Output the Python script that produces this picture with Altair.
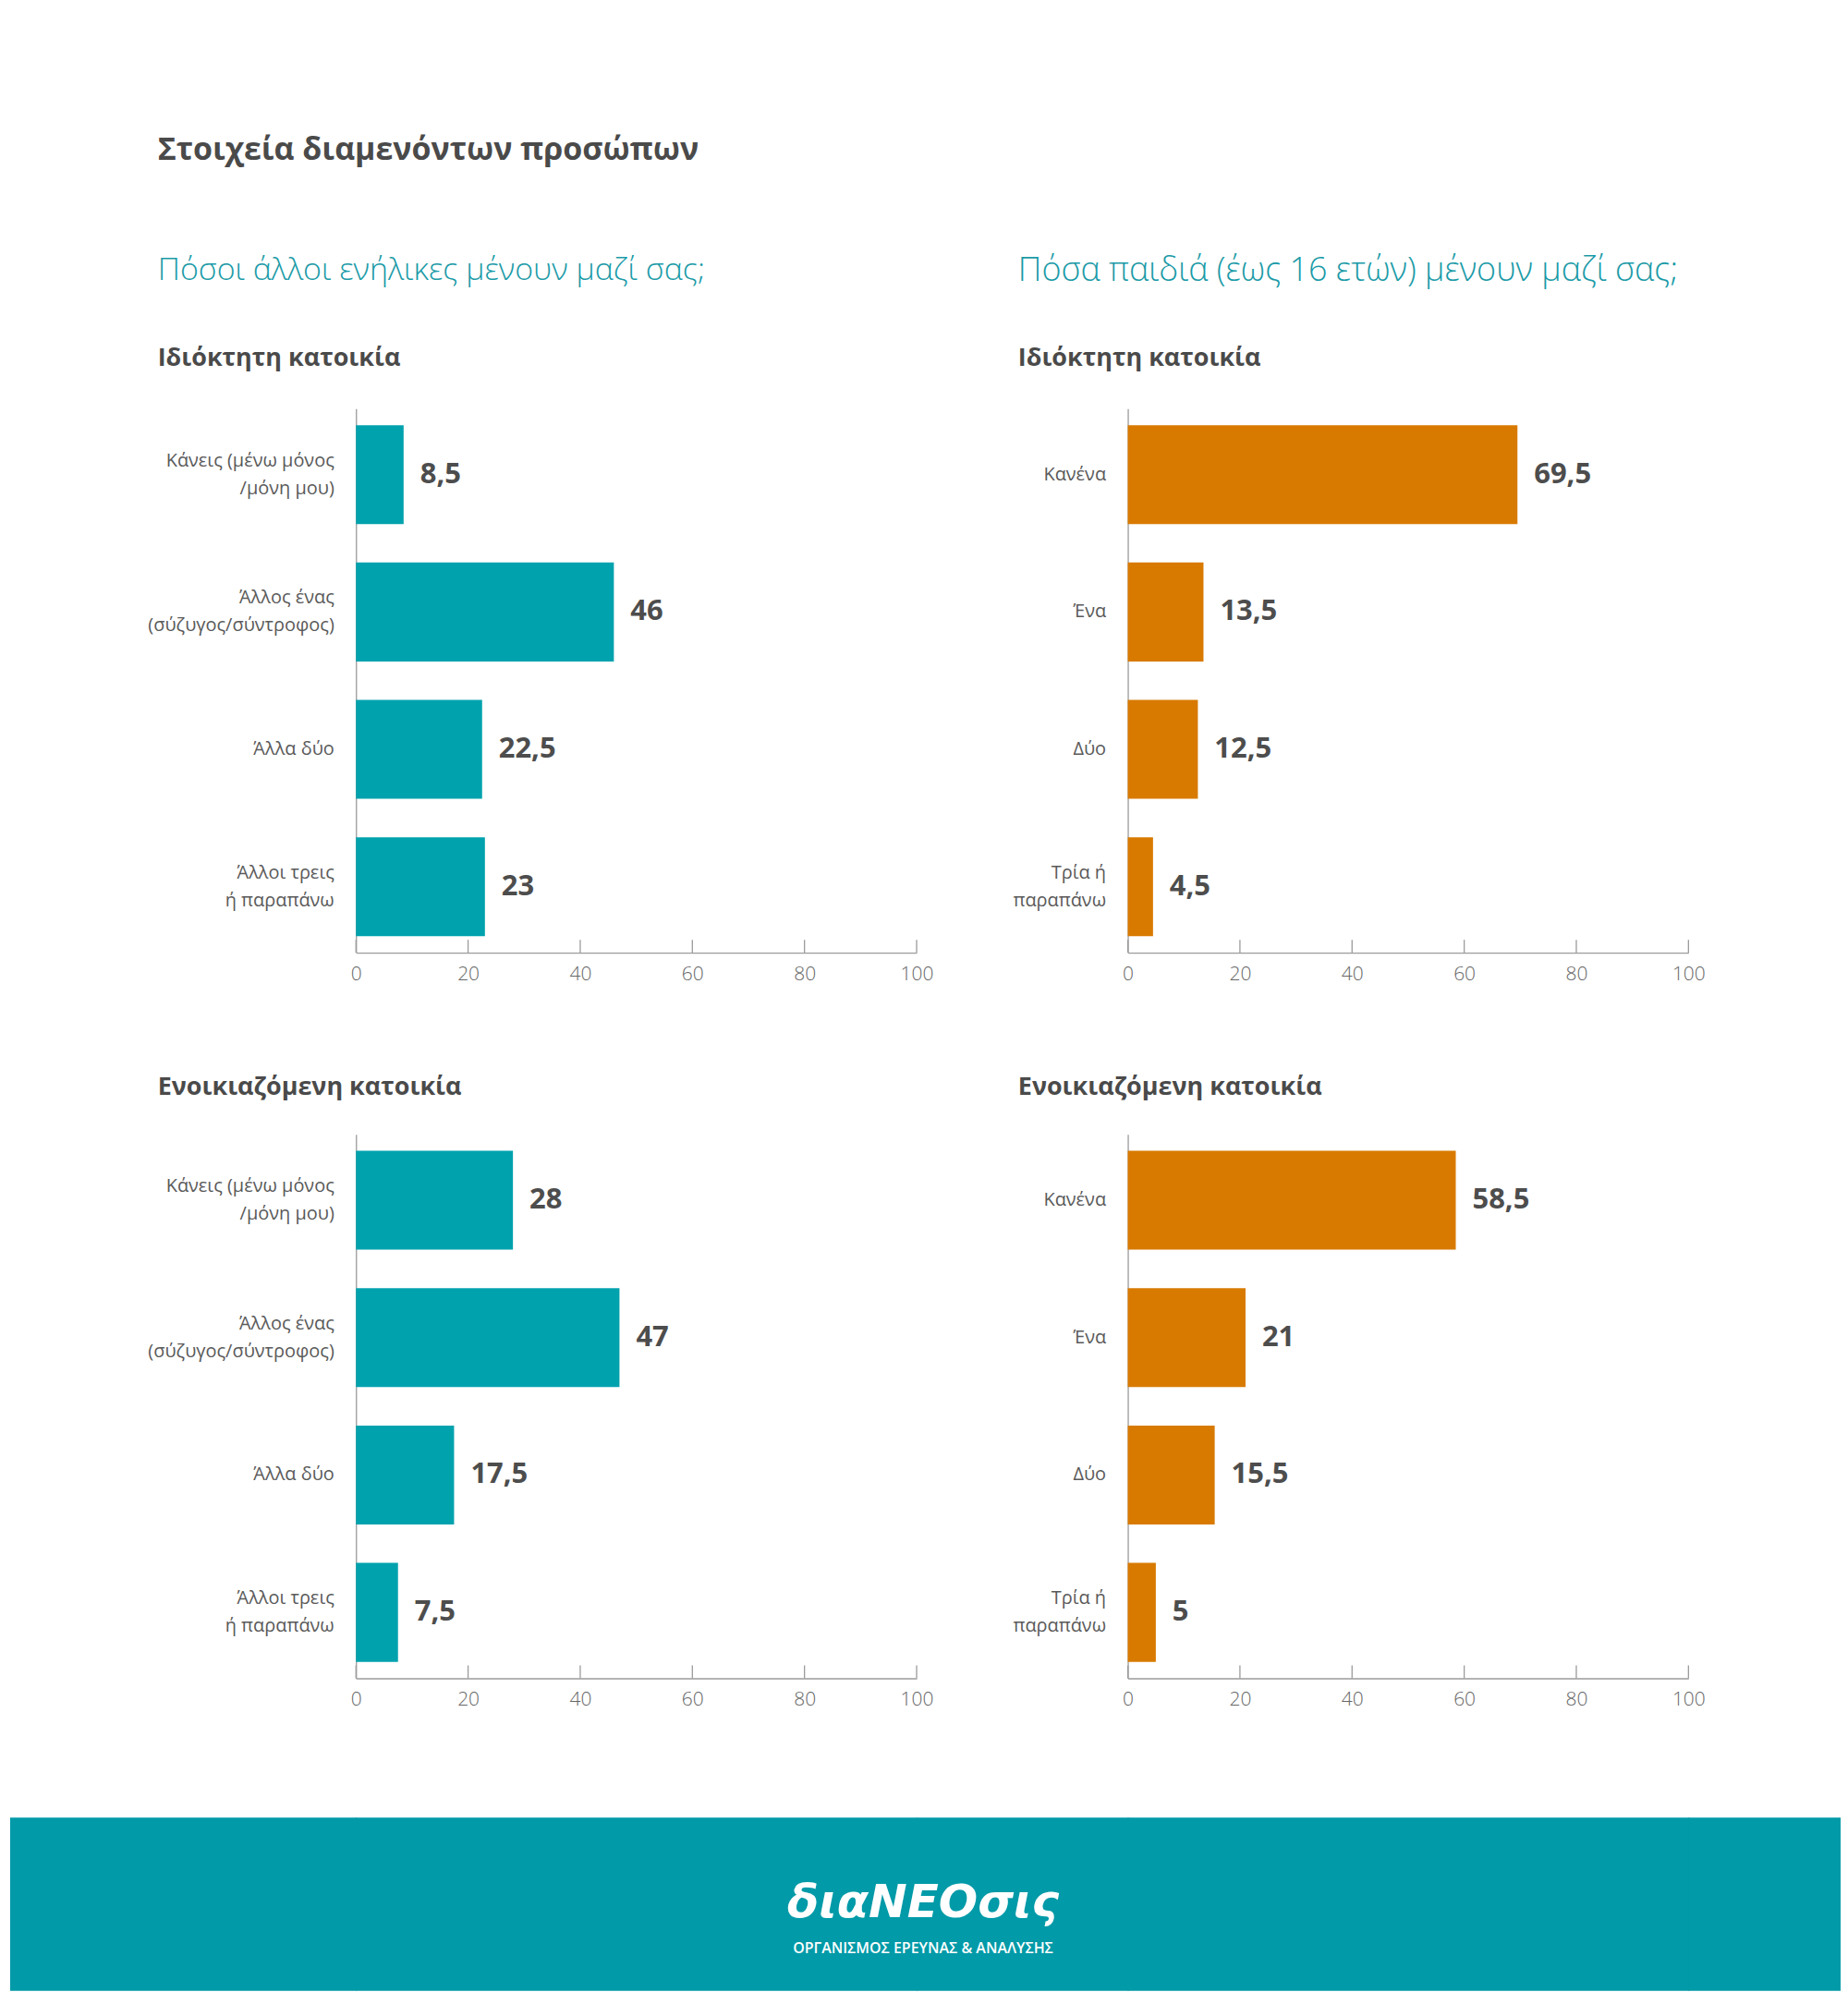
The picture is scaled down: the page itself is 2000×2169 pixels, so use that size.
import altair as alt
import pandas as pd

FONT = "Open Sans"
TEAL = "#00A2AE"
ORANGE = "#D87A00"
FOOTER = "#009AA8"
DARK = "#4A4A4A"
AXIS_GRAY = "#9B9B9B"

# ---- data ----
adult_categories = ["Κάνεις (μένω μόνος|/μόνη μου)", "Άλλος ένας|(σύζυγος/σύντροφος)",
                    "Άλλα δύο", "Άλλοι τρεις|ή παραπάνω"]
child_categories = ["Κανένα", "Ένα", "Δύο", "Τρία ή|παραπάνω"]
adults_owned = [8.5, 46, 22.5, 23]
adults_rented = [28, 47, 17.5, 7.5]
children_owned = [69.5, 13.5, 12.5, 4.5]
children_rented = [58.5, 21, 15.5, 5]
x_ticks = [0, 20, 40, 60, 80, 100]

main_title = "Στοιχεία διαμενόντων προσώπων"
q_adults = "Πόσοι άλλοι ενήλικες μένουν μαζί σας;"
q_children = "Πόσα παιδιά (έως 16 ετών) μένουν μαζί σας;"
t_owned = "Ιδιόκτητη κατοικία"
t_rented = "Ενοικιαζόμενη κατοικία"
logo_text = "διαNEOσις"
logo_sub = "ΟΡΓΑΝΙΣΜΟΣ ΕΡΕΥΝΑΣ & ΑΝΑΛΥΣΗΣ"

# ---- layout grid (flush cells) ----
COL_W = [375, 608, 229, 608, 164]
ROW_H = [430, 590, 197, 590, 151, 188]
PW, PH = 608, 590
LINE_H = 30
one = pd.DataFrame({"a": [0]})


def fmt(v):
    return f"{v:g}".replace(".", ",")


def panel(cats, vals, color):
    df = pd.DataFrame({"cat": cats, "val": vals, "lab": [fmt(v) for v in vals]})
    y = alt.Y("cat:N", sort=cats, title=None,
              scale=alt.Scale(paddingInner=0.28, paddingOuter=0.12),
              axis=alt.Axis(ticks=False, tickSize=0, domainColor=AXIS_GRAY, domainWidth=1.3,
                            labelFont=FONT, labelFontSize=20, labelFontWeight=400,
                            labelColor="#5A5A5A", labelPadding=24, labelLimit=400,
                            labelLineHeight=LINE_H,
                            labelOffset={"condition": {"test": "indexof(datum.label, '|') >= 0",
                                                       "value": -LINE_H / 2},
                                         "value": 0},
                            labelExpr="split(datum.label, '|')"))
    x = alt.X("val:Q", title=None, scale=alt.Scale(domain=[0, 100], nice=False),
              axis=alt.Axis(values=x_ticks, ticks=False, tickSize=0, grid=False,
                            domainColor=AXIS_GRAY, domainWidth=1.3, labelFont=FONT,
                            labelFontSize=21, labelFontWeight=300, labelColor="#666666",
                            labelPadding=12, labelFlush=False))
    base = alt.Chart(df)
    bars = base.mark_bar(color=color).encode(x=x, y=y)
    text = base.mark_text(align="left", baseline="middle", dx=18, font=FONT, fontSize=31,
                          fontWeight="bold", color="#4D4D4D").encode(
        x="val:Q", y=alt.Y("cat:N", sort=cats), text="lab:N")
    ticks = alt.Chart(pd.DataFrame({"t": x_ticks})).mark_rule(
        color=AXIS_GRAY, strokeWidth=1.3).encode(
        x=alt.X("t:Q", title=None), y=alt.value(PH - 14), y2=alt.value(PH))
    return alt.layer(bars, text, ticks).properties(width=PW, height=PH)


def blank(w, h):
    return alt.Chart(one).mark_point(opacity=0).encode(
        x=alt.value(0), y=alt.value(0)).properties(width=w, height=h)


def label(txt, x, y, size, weight, color, align="left", style="normal", font=FONT):
    return alt.Chart(one).mark_text(align=align, baseline="middle", font=font, fontSize=size,
                                    fontWeight=weight, color=color, fontStyle=style).encode(
        x=alt.value(x), y=alt.value(y), text=alt.value(txt))


def footer_cell(w, h, extra=None):
    rect = alt.Chart(one).mark_rect(color=FOOTER).encode(
        x=alt.value(0), x2=alt.value(w + 1), y=alt.value(0), y2=alt.value(h))
    layers = [rect] + (extra or [])
    return alt.layer(*layers).properties(width=w, height=h)


LX, RX = 160, 1093
cells = []
# row 0: headings
top_text = alt.layer(
    label(main_title, LX, 150, 34, "bold", DARK),
    label(q_adults, LX, 280, 34, 300, "#1A9AA7"),
    label(q_children, RX, 280, 36, 300, "#1A9AA7"),
    label(t_owned, LX, 376, 27, "bold", DARK),
    label(t_owned, RX, 376, 27, "bold", DARK),
).properties(width=COL_W[0], height=ROW_H[0])
cells.append(top_text)
cells += [blank(w, ROW_H[0]) for w in COL_W[1:]]
# row 1: owned
cells += [blank(COL_W[0], ROW_H[1]), panel(adult_categories, adults_owned, TEAL),
          blank(COL_W[2], ROW_H[1]), panel(child_categories, children_owned, ORANGE),
          blank(COL_W[4], ROW_H[1])]
# row 2: gap with rented titles
mid_text = alt.layer(
    label(t_rented, LX, 146, 27, "bold", DARK),
    label(t_rented, RX, 146, 27, "bold", DARK),
).properties(width=COL_W[0], height=ROW_H[2])
cells.append(mid_text)
cells += [blank(w, ROW_H[2]) for w in COL_W[1:]]
# row 3: rented
cells += [blank(COL_W[0], ROW_H[3]), panel(adult_categories, adults_rented, TEAL),
          blank(COL_W[2], ROW_H[3]), panel(child_categories, children_rented, ORANGE),
          blank(COL_W[4], ROW_H[3])]
# row 4: gap
cells += [blank(w, ROW_H[4]) for w in COL_W]
# row 5: footer
cells += [footer_cell(w, ROW_H[5]) for w in COL_W[:-1]]
logo_x = 990 - sum(COL_W[:-1])
cells.append(footer_cell(COL_W[-1], ROW_H[5], [
    label(logo_text, logo_x, 93, 50, "bold", "white", align="center", style="italic",
          font="DejaVu Sans"),
    label(logo_sub, logo_x, 142, 16, 600, "white", align="center"),
]))

chart = alt.concat(*cells, columns=5, spacing=0, bounds="flush", align="each").resolve_scale(
    x="independent", y="independent"
).properties(padding=0, background="white").configure(font=FONT).configure_view(strokeWidth=0)

chart.save("out.html", embed_options={"renderer": "svg", "actions": False})
